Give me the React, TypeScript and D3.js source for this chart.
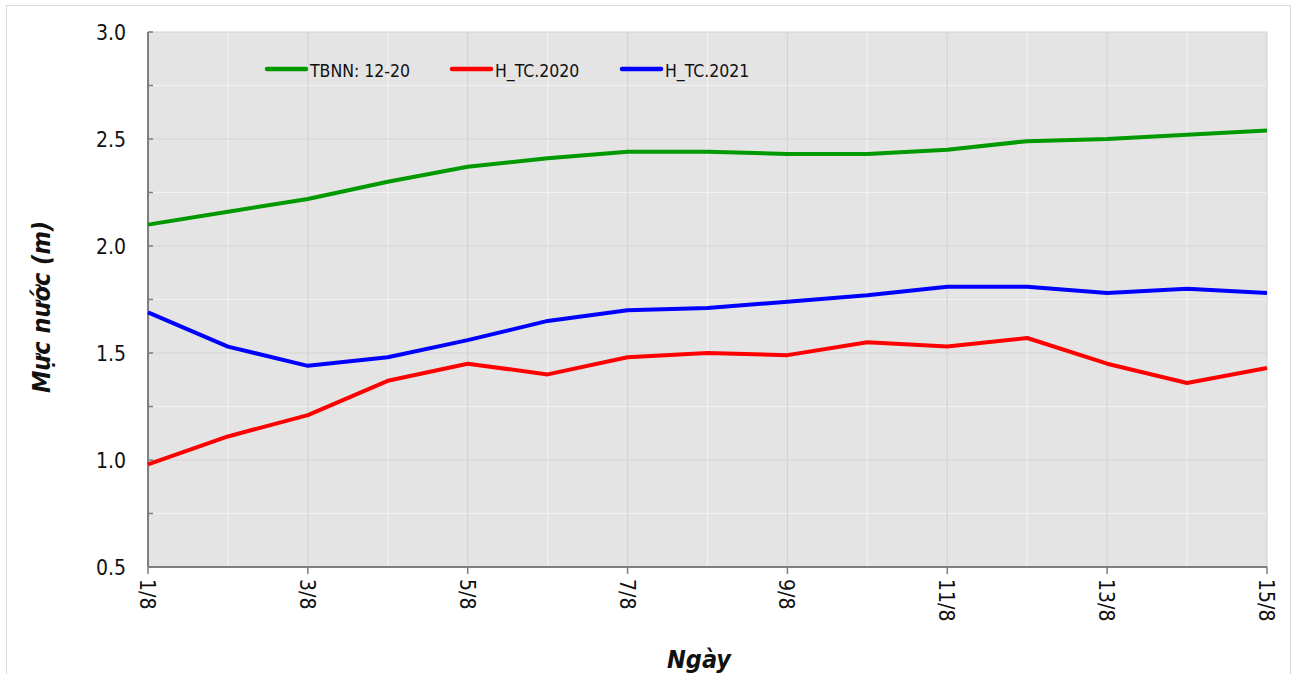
import { useEffect, useRef } from 'react';
import * as d3 from 'd3';

const days = ['1/8', '2/8', '3/8', '4/8', '5/8', '6/8', '7/8', '8/8', '9/8', '10/8', '11/8', '12/8', '13/8', '14/8', '15/8'];
const tbnn = [2.10, 2.16, 2.22, 2.30, 2.37, 2.41, 2.44, 2.44, 2.43, 2.43, 2.45, 2.49, 2.50, 2.52, 2.54];
const h2020 = [0.98, 1.11, 1.21, 1.37, 1.45, 1.40, 1.48, 1.50, 1.49, 1.55, 1.53, 1.57, 1.45, 1.36, 1.43];
const h2021 = [1.69, 1.53, 1.44, 1.48, 1.56, 1.65, 1.70, 1.71, 1.74, 1.77, 1.81, 1.81, 1.78, 1.80, 1.78];
const yTicks = [0.5, 1.0, 1.5, 2.0, 2.5, 3.0];
const yMinor = [0.75, 1.25, 1.75, 2.25, 2.75];

const series = [
  { name: 'TBNN: 12-20', values: tbnn, color: '#009900', lx: 267 },
  { name: 'H_TC.2020', values: h2020, color: '#ff0000', lx: 452 },
  { name: 'H_TC.2021', values: h2021, color: '#0000ff', lx: 622 },
];

const W = 1295;
const H = 674;
const FONT = '"DejaVu Sans", Verdana, sans-serif';

export default function App() {
  const svgRef = useRef<SVGSVGElement>(null);

  useEffect(() => {
    if (!svgRef.current) return;
    const svg = d3.select(svgRef.current);
    svg.selectAll('*').remove();

    const left = 148, right = 1267, top = 32, bottom = 567;
    const x = d3.scalePoint<string>().domain(days).range([left, right]);
    const y = d3.scaleLinear().domain([0.5, 3.0]).range([bottom, top]);

    // outer frame
    svg.append('rect')
      .attr('x', 6.5).attr('y', 5.5)
      .attr('width', 1284).attr('height', 700)
      .attr('fill', '#fff').attr('stroke', '#d9d9d9');

    // plot background
    svg.append('rect')
      .attr('x', left).attr('y', top)
      .attr('width', right - left).attr('height', bottom - top)
      .attr('fill', '#e4e4e4');

    // minor gridlines (white)
    yMinor.forEach((v) => {
      svg.append('line')
        .attr('x1', left).attr('x2', right)
        .attr('y1', y(v)).attr('y2', y(v))
        .attr('stroke', '#f2f2f2').attr('stroke-width', 1.2);
    });
    days.forEach((d, i) => {
      if (i % 2 === 1) {
        svg.append('line')
          .attr('x1', x(d)!).attr('x2', x(d)!)
          .attr('y1', top).attr('y2', bottom)
          .attr('stroke', '#f2f2f2').attr('stroke-width', 1.2);
      }
    });
    // major gridlines (darker)
    yTicks.forEach((v) => {
      svg.append('line')
        .attr('x1', left).attr('x2', right)
        .attr('y1', y(v)).attr('y2', y(v))
        .attr('stroke', '#d4d4d4').attr('stroke-width', 1.2);
    });
    days.forEach((d, i) => {
      if (i % 2 === 0) {
        svg.append('line')
          .attr('x1', x(d)!).attr('x2', x(d)!)
          .attr('y1', top).attr('y2', bottom)
          .attr('stroke', '#d4d4d4').attr('stroke-width', 1.2);
      }
    });

    // axes
    const axisColor = '#7f7f7f';
    svg.append('line')
      .attr('x1', left).attr('x2', left)
      .attr('y1', top).attr('y2', bottom)
      .attr('stroke', axisColor).attr('stroke-width', 2);
    [...yTicks, ...yMinor].forEach((v) => {
      svg.append('line')
        .attr('x1', left).attr('x2', left + 5)
        .attr('y1', y(v)).attr('y2', y(v))
        .attr('stroke', axisColor).attr('stroke-width', 1.5);
    });
    svg.append('line')
      .attr('x1', left).attr('x2', right)
      .attr('y1', bottom).attr('y2', bottom)
      .attr('stroke', axisColor).attr('stroke-width', 2);
    days.forEach((d, i) => {
      if (i % 2 === 0) {
        svg.append('line')
          .attr('x1', x(d)!).attr('x2', x(d)!)
          .attr('y1', bottom).attr('y2', bottom + 7)
          .attr('stroke', axisColor).attr('stroke-width', 1.5);
        svg.append('text')
          .attr('transform', `translate(${x(d)! - 8}, ${bottom + 12}) rotate(90)`)
          .attr('font-family', FONT).attr('font-size', 21)
          .attr('font-stretch', 'condensed')
          .attr('fill', '#111')
          .text(d);
      }
    });

    // y tick labels
    yTicks.forEach((v) => {
      svg.append('text')
        .attr('x', 126).attr('y', y(v) + 8)
        .attr('text-anchor', 'end')
        .attr('font-family', FONT).attr('font-size', 21)
        .attr('font-stretch', 'condensed')
        .attr('fill', '#111')
        .text(v.toFixed(1));
    });

    // lines
    const line = d3.line<number>()
      .x((_, i) => x(days[i])!)
      .y((v) => y(v));
    series.forEach((s) => {
      svg.append('path')
        .attr('d', line(s.values) || '')
        .attr('fill', 'none')
        .attr('stroke', s.color)
        .attr('stroke-width', 4)
        .attr('stroke-linejoin', 'round');
    });

    // legend
    series.forEach((s) => {
      svg.append('line')
        .attr('x1', s.lx).attr('x2', s.lx + 39)
        .attr('y1', 69).attr('y2', 69)
        .attr('stroke', s.color).attr('stroke-width', 4.5)
        .attr('stroke-linecap', 'round');
      svg.append('text')
        .attr('x', s.lx + 43).attr('y', 77)
        .attr('font-family', FONT).attr('font-size', 17.5)
        .attr('font-stretch', 'condensed')
        .attr('fill', '#111')
        .text(s.name);
    });

    // axis titles
    svg.append('text')
      .attr('transform', `translate(50, 307) rotate(-90)`)
      .attr('text-anchor', 'middle')
      .attr('font-family', FONT).attr('font-size', 25)
      .attr('font-stretch', 'condensed')
      .attr('font-weight', 'bold').attr('font-style', 'italic')
      .attr('fill', '#111')
      .text('Mực nước (m)');
    svg.append('text')
      .attr('x', 699)
      .attr('y', 668)
      .attr('text-anchor', 'middle')
      .attr('font-family', FONT).attr('font-size', 25)
      .attr('font-stretch', 'condensed')
      .attr('font-weight', 'bold').attr('font-style', 'italic')
      .attr('fill', '#111')
      .text('Ngày');
  }, []);

  return (
    <svg
      ref={svgRef}
      width={W}
      height={H}
      viewBox={`0 0 ${W} ${H}`}
      style={{ position: 'absolute', left: 0, top: 0, background: '#fff' }}
    />
  );
}
